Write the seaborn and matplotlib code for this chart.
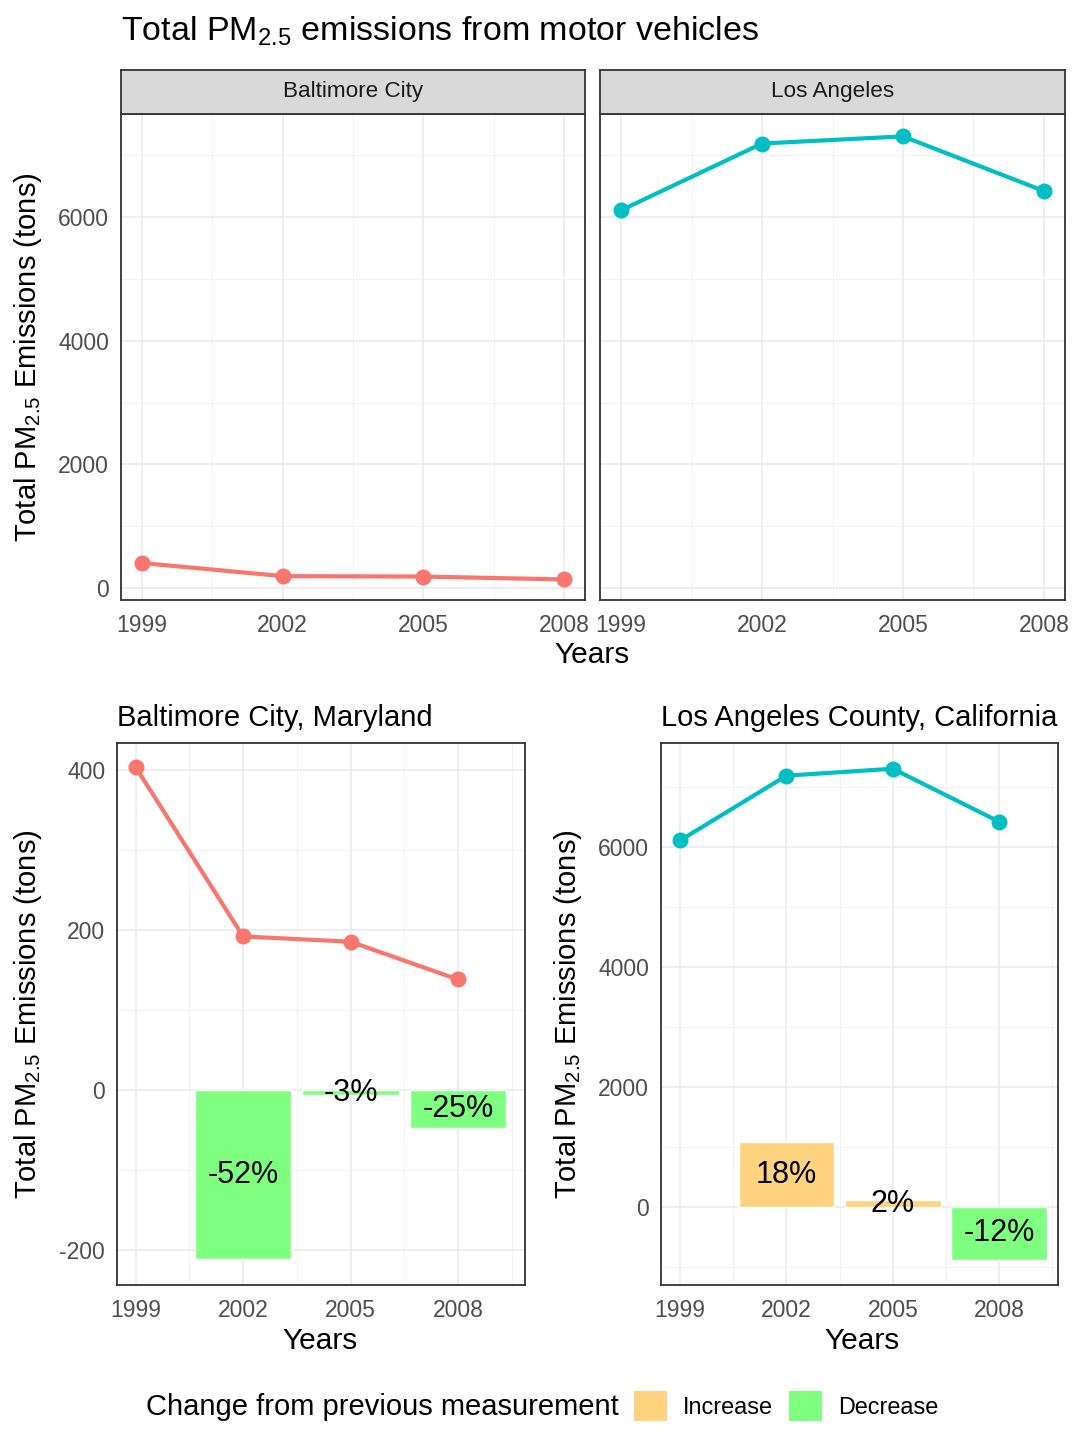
import numpy as np
import pandas as pd
import matplotlib
matplotlib.use("Agg")
import matplotlib.pyplot as plt
from matplotlib.patches import Patch
from matplotlib.ticker import FixedLocator
import seaborn as sns

# data (tons of PM2.5 from motor vehicles)
years = [1999, 2002, 2005, 2008]
baltimore = [403.8, 192.0, 185.4, 138.2]
los_angeles = [6109.7, 7188.7, 7304.1, 6421.0]
cities = ["Baltimore City", "Los Angeles"]
subtitles = ["Baltimore City, Maryland", "Los Angeles County, California"]
city_colors = ["#F8766D", "#00BFC4"]
change_colors = {"Increase": "#FFD27F", "Decrease": "#7FFF7F"}

df = pd.DataFrame({
    "year": years * 2,
    "city": [cities[0]] * 4 + [cities[1]] * 4,
    "emissions": baltimore + los_angeles,
})
df["diff"] = df.groupby("city")["emissions"].diff()
df["pct"] = df["diff"] / df.groupby("city")["emissions"].shift() * 100
df["change"] = np.where(df["diff"] > 0, "Increase", "Decrease")

sns.set_style("white")
plt.rcParams["font.family"] = ["Liberation Sans", "DejaVu Sans"]
plt.rcParams["mathtext.fontset"] = "custom"
plt.rcParams["mathtext.rm"] = "Liberation Sans"
plt.rcParams["axes.unicode_minus"] = False
plt.rcParams["text.color"] = "black"

W, H = 1080, 1440
fig = plt.figure(figsize=(W / 100, H / 100), dpi=100)

ylab = "Total PM$\\mathregular{_{2.5}}$ Emissions (tons)"
tick_col = "#4D4D4D"
border = "#333333"


def px(x0, y0, x1, y1):
    return [x0 / W, 1 - y1 / H, (x1 - x0) / W, (y1 - y0) / H]


def style_axes(ax, xminor, yminor):
    ax.set_axisbelow(True)
    ax.xaxis.set_minor_locator(FixedLocator(xminor))
    ax.yaxis.set_minor_locator(FixedLocator(yminor))
    ax.grid(which="major", color="#EBEBEB", lw=1.2)
    ax.grid(which="minor", color="#F2F2F2", lw=0.7)
    for s in ax.spines.values():
        s.set_color(border)
        s.set_linewidth(1.3)
    ax.tick_params(which="major", length=4.5, width=1, color=border,
                   labelsize=16.5, labelcolor=tick_col, direction="out", pad=5.5)
    ax.tick_params(which="minor", length=0)
    ax.set_xticks(years)
    ax.set_xlabel("")
    ax.set_ylabel("")


# ---- top: facetted lines ----
for i, (x0, x1) in enumerate([(121, 585), (600, 1065)]):
    ax = fig.add_axes(px(x0, 114, x1, 600))
    sub = df[df["city"] == cities[i]]
    sns.lineplot(data=sub, x="year", y="emissions", color=city_colors[i],
                 lw=3, marker="o", markersize=11.5, markeredgewidth=0, ax=ax)
    ax.set_xlim(1998.55, 2008.45)
    ax.set_ylim(-194, 7666)
    style_axes(ax, [2000.5, 2003.5, 2006.5], [1000, 3000, 5000, 7000])
    ax.set_yticks([0, 2000, 4000, 6000])
    ax.tick_params(axis="y", pad=4)
    if i == 1:
        ax.set_yticklabels([])
        ax.tick_params(axis="y", length=0)
    # strip
    st = fig.add_axes(px(x0, 70, x1, 114))
    st.set_facecolor("#D9D9D9")
    st.set_xticks([])
    st.set_yticks([])
    for s in st.spines.values():
        s.set_color(border)
        s.set_linewidth(1.3)
    st.text(0.5, 0.5, cities[i], ha="center", va="center", fontsize=16.2,
            color="#1A1A1A", transform=st.transAxes)

fig.text(121 / W, 1 - 31 / H, "Total PM$\\mathregular{_{2.5}}$ emissions from motor vehicles",
         fontsize=24.5, ha="left", va="center")
fig.text(592 / W, 1 - 655 / H, "Years", fontsize=21.5, ha="center", va="center")
fig.text(28 / W, 1 - 357 / H, ylab, fontsize=21, rotation=90, ha="center", va="center")

# ---- bottom: lines + change bars ----
bottom = [
    dict(box=(117, 743, 525, 1285), xlim=(1998.48, 2009.87), ylim=(-244, 434),
         yticks=[-200, 0, 200, 400], yminor=[-100, 100, 300], xlab=320, ylabx=28),
    dict(box=(661, 743, 1058, 1285), xlim=(1998.46, 2009.66), ylim=(-1300, 7733),
         yticks=[0, 2000, 4000, 6000], yminor=[-1000, 1000, 3000, 5000, 7000],
         xlab=862, ylabx=568),
]
for i, cfg in enumerate(bottom):
    ax = fig.add_axes(px(*cfg["box"]))
    sub = df[df["city"] == cities[i]]
    chg = sub.dropna(subset=["diff"])
    sns.barplot(data=chg, x="year", y="diff", hue="change", palette=change_colors,
                native_scale=True, width=0.9, dodge=False, errorbar=None,
                saturation=1, legend=False, ax=ax, zorder=2)
    sns.lineplot(data=sub, x="year", y="emissions", color=city_colors[i],
                 lw=3, marker="o", markersize=11.5, markeredgewidth=0, ax=ax, zorder=3)
    for _, r in chg.iterrows():
        ax.text(r["year"], r["diff"] / 2, f"{int(round(r['pct']))}%", ha="center",
                va="center", fontsize=22, color="black", zorder=4)
    ax.set_xlim(*cfg["xlim"])
    ax.set_ylim(*cfg["ylim"])
    style_axes(ax, [2000.5, 2003.5, 2006.5, 2009.5], cfg["yminor"])
    ax.set_yticks(cfg["yticks"])
    ax.tick_params(axis="y", pad=4)
    ax.text(0, 1.02, subtitles[i], transform=ax.transAxes, fontsize=21,
            ha="left", va="bottom")
    fig.text(cfg["xlab"] / W, 1 - 1341 / H, "Years", fontsize=21.5, ha="center", va="center")
    fig.text(cfg["ylabx"] / W, 1 - 1014 / H, ylab, fontsize=21, rotation=90,
             ha="center", va="center")

# ---- legend ----
fig.text(146 / W, 1 - 1407 / H, "Change from previous measurement", fontsize=21,
         ha="left", va="center")
handles = [Patch(facecolor=c, edgecolor="none", label=k) for k, c in change_colors.items()]
fig.legend(handles=handles, loc="center left", bbox_to_anchor=(613 / W, 1 - 1406 / H),
           ncol=2, frameon=False, fontsize=16.8, handlelength=1.4, handleheight=1.6,
           handletextpad=0.7, columnspacing=0.7)

fig.savefig("out.png", dpi=100)
